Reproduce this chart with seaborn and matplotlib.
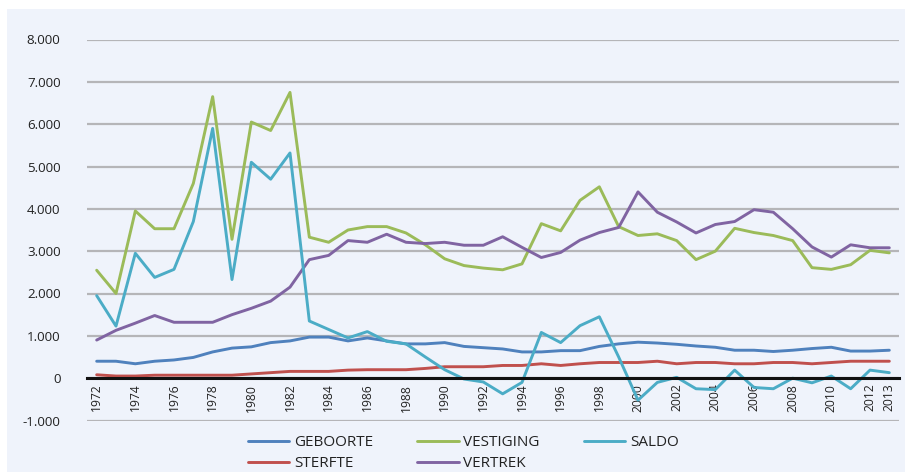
import pandas as pd
from matplotlib import pyplot as plt
from matplotlib.patches import Rectangle
from matplotlib.ticker import FixedLocator, FuncFormatter, NullFormatter
import seaborn as sns

years = list(range(1972, 2014))

geboorte = [400, 400, 340, 400, 430, 490, 620, 710, 740, 840, 880, 970, 970, 880,
            950, 880, 810, 810, 840, 750, 720, 690, 620, 620, 650, 650, 750, 810,
            850, 830, 800, 760, 730, 660, 660, 630, 660, 700, 730, 640, 640, 660]
sterfte = [80, 50, 50, 70, 70, 70, 70, 70, 100, 130, 160, 160, 160, 190,
           200, 200, 200, 230, 270, 270, 270, 300, 300, 340, 300, 340, 370, 370,
           370, 400, 340, 370, 370, 340, 340, 370, 370, 340, 370, 400, 400, 400]
vestiging = [2550, 2000, 3950, 3530, 3530, 4600, 6650, 3280, 6050, 5850, 6750, 3330, 3210, 3500,
             3580, 3580, 3430, 3150, 2820, 2660, 2600, 2560, 2700, 3650, 3480, 4200, 4520, 3580,
             3370, 3410, 3250, 2800, 3000, 3540, 3440, 3370, 3250, 2610, 2570, 2680, 3020, 2960]
vertrek = [900, 1130, 1300, 1480, 1320, 1320, 1320, 1500, 1650, 1820, 2150, 2800, 2900, 3250,
           3210, 3400, 3210, 3180, 3210, 3140, 3140, 3340, 3090, 2850, 2970, 3260, 3440, 3560,
           4400, 3920, 3690, 3430, 3630, 3700, 3980, 3920, 3530, 3100, 2860, 3150, 3080, 3080]
saldo = [1950, 1230, 2950, 2380, 2570, 3700, 5900, 2330, 5100, 4700, 5320, 1350, 1150, 950,
         1100, 870, 810, 500, 200, -20, -90, -370, -100, 1080, 840, 1240, 1450, 500,
         -520, -100, 20, -250, -270, 190, -220, -250, 0, -110, 50, -250, 190, 130]

series_names = ['GEBOORTE', 'STERFTE', 'VESTIGING', 'VERTREK', 'SALDO']
series_colors = ['#4f81bd', '#c0504d', '#9bbb59', '#8064a2', '#4bacc6']
label_years = list(range(1972, 2013, 2)) + [2013]
yticks = list(range(-1000, 9000, 1000))

BG = '#eff3fb'


def get_data():
    table = pd.DataFrame({'jaar': years, 'GEBOORTE': geboorte, 'STERFTE': sterfte,
                          'VESTIGING': vestiging, 'VERTREK': vertrek, 'SALDO': saldo})
    return table.melt(id_vars='jaar', var_name='reeks', value_name='aantal')


def dotted(v, pos=None):
    return f'{v:,.0f}'.replace(',', '.')


def plot_data(data):
    fig = plt.figure(figsize=(9.05, 4.72), dpi=100, facecolor=BG)
    ax = fig.add_axes([87 / 905, 1 - 420.5 / 472, 812 / 905, 381 / 472])
    ax.set_facecolor(BG)

    sns.lineplot(data=data, x='jaar', y='aantal', hue='reeks', hue_order=series_names,
                 palette=series_colors, linewidth=2.1, ax=ax)
    handles, labels = ax.get_legend_handles_labels()
    ax.get_legend().remove()

    ax.set_xlim(years[0] - 0.5, years[-1] + 0.5)
    ax.set_ylim(-1000, 8000)
    ax.set_xlabel('')
    ax.set_ylabel('')

    ax.set_yticks(yticks)
    ax.yaxis.set_major_formatter(FuncFormatter(dotted))
    ax.yaxis.grid(True, color='#b5b5b8', linewidth=1.6)
    ax.xaxis.grid(False)
    ax.tick_params(axis='y', length=0, pad=19, labelsize=9.6, labelcolor='#222222')

    for side in ['left', 'right', 'top']:
        ax.spines[side].set_visible(False)
    ax.spines['bottom'].set_position(('data', 0))
    ax.spines['bottom'].set_color('#111111')
    ax.spines['bottom'].set_linewidth(2.2)
    ax.spines['bottom'].set_zorder(5)

    ax.xaxis.set_major_locator(FixedLocator([y - 0.5 for y in years] + [years[-1] + 0.5]))
    ax.xaxis.set_major_formatter(NullFormatter())
    ax.xaxis.set_minor_locator(FixedLocator(label_years))
    ax.xaxis.set_minor_formatter(FuncFormatter(lambda v, pos: str(int(round(v)))))
    ax.tick_params(axis='x', which='major', length=6, width=2, color='#111111', direction='out')
    ax.tick_params(axis='x', which='minor', length=0, pad=4, labelsize=8.7,
                   labelrotation=90, labelcolor='#222222')

    fig.legend(handles, labels, loc='center', bbox_to_anchor=(0.512, 0.040), ncol=3,
               frameon=False, fontsize=11, handlelength=2.7, handletextpad=0.3,
               columnspacing=2.9, labelspacing=0.4, labelcolor='#222222')

    # white margins at top and left, as in the cropped original
    fig.patches.append(Rectangle((0, 1 - 9 / 472), 1, 9 / 472, transform=fig.transFigure,
                                 facecolor='white', edgecolor='none', zorder=10))
    fig.patches.append(Rectangle((0, 0), 7 / 905, 1, transform=fig.transFigure,
                                 facecolor='white', edgecolor='none', zorder=10))

    fig.savefig('out.png', dpi=100, facecolor=BG)


if __name__ == '__main__':
    sns.set_style('white')
    plt.rcParams['font.family'] = ['Open Sans', 'DejaVu Sans']
    data = get_data()
    plot_data(data)
